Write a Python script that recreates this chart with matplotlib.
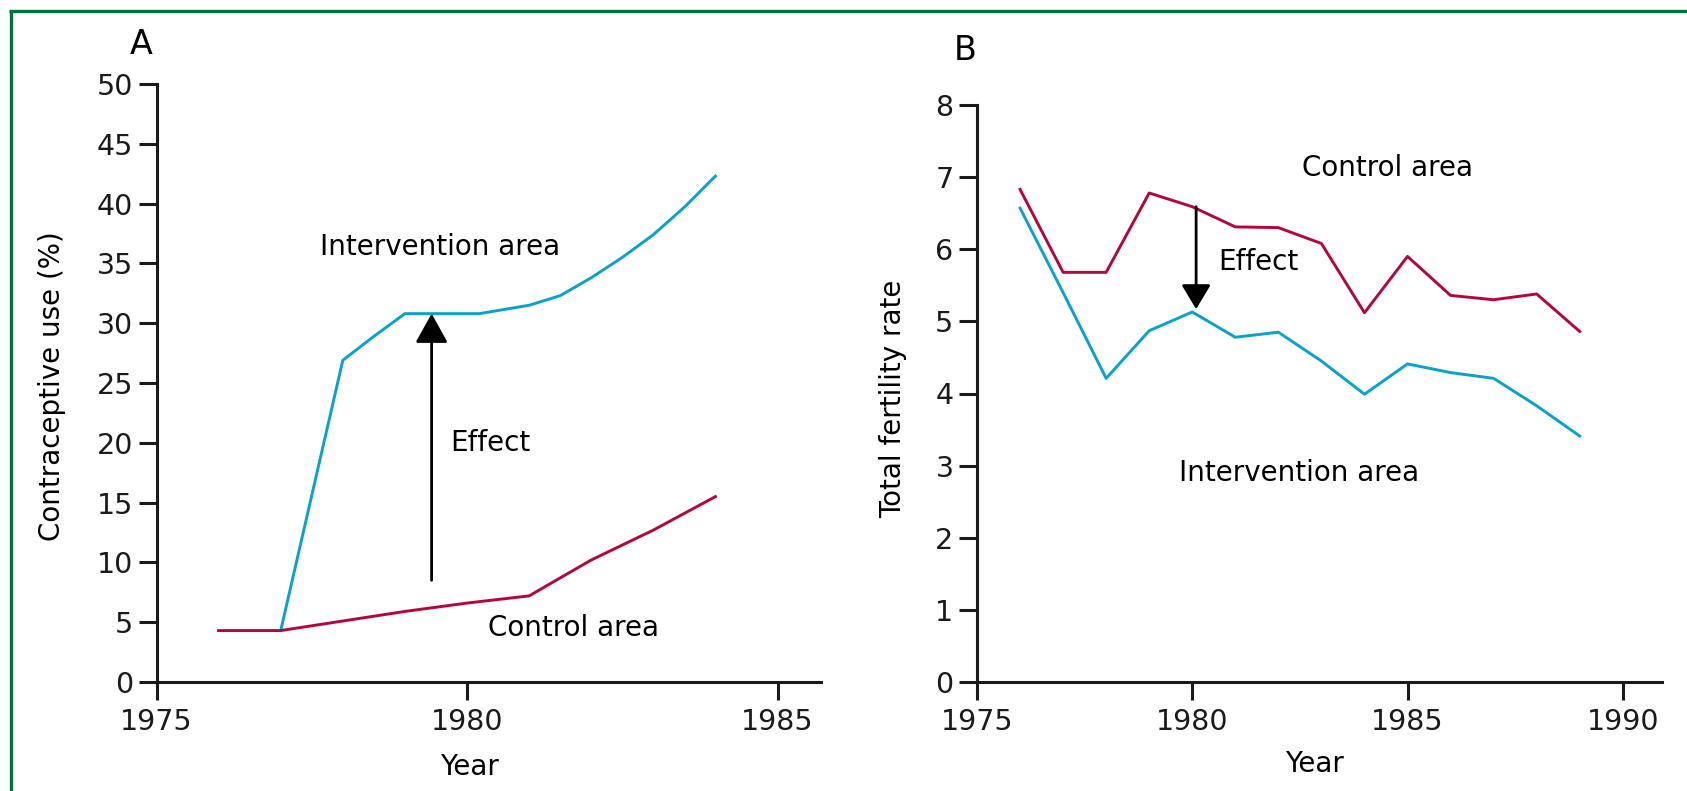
import matplotlib
matplotlib.use("Agg")
import matplotlib.pyplot as plt
from matplotlib.lines import Line2D

plt.rcParams['font.family'] = ['DejaVu Sans']

# ---------------- data ----------------
# Panel A: contraceptive use (%)
a_ctrl_years = [1976, 1977, 1978, 1979, 1980, 1981, 1982, 1983, 1984]
a_ctrl_vals = [4.3, 4.3, 5.1, 5.9, 6.6, 7.2, 10.2, 12.7, 15.5]
a_int_years = [1977, 1978, 1978.5, 1979, 1980.2, 1981, 1981.5, 1982, 1982.5, 1983, 1983.5, 1984]
a_int_vals = [4.3, 26.9, 28.9, 30.8, 30.8, 31.5, 32.3, 33.8, 35.5, 37.4, 39.7, 42.3]

# Panel B: total fertility rate
b_years = [1976, 1977, 1978, 1979, 1980, 1981, 1982, 1983, 1984, 1985, 1986, 1987, 1988, 1989]
b_ctrl_vals = [6.83, 5.68, 5.68, 6.78, 6.59, 6.31, 6.30, 6.08, 5.12, 5.90, 5.36, 5.30, 5.38, 4.86]
b_int_vals = [6.57, 5.40, 4.21, 4.87, 5.13, 4.78, 4.85, 4.45, 3.99, 4.41, 4.29, 4.21, 3.83, 3.41]

a_yticks = [0, 5, 10, 15, 20, 25, 30, 35, 40, 45, 50]
a_xticks = [1975, 1980, 1985]
b_yticks = [0, 1, 2, 3, 4, 5, 6, 7, 8]
b_xticks = [1975, 1980, 1985, 1990]

RED = '#B3063B'
CYAN = '#0AA2C8'
GREEN = '#00703C'

W, H = 1687, 791
fig = plt.figure(figsize=(W / 100, H / 100), dpi=100)
fig.patch.set_facecolor('white')

# border (top and left)
fig.add_artist(Line2D([10.5 / W, 10.5 / W], [0, 1 - 10.5 / H], transform=fig.transFigure,
                      color=GREEN, lw=2.4, solid_capstyle='butt'))
fig.add_artist(Line2D([9 / W, 1], [1 - 10.5 / H, 1 - 10.5 / H], transform=fig.transFigure,
                      color=GREEN, lw=2.4, solid_capstyle='butt'))

TICK_FS = 20.5
TEXT_FS = 20
LABEL_FS = 20


def style_axes(ax, ymax):
    for s in ['top', 'right']:
        ax.spines[s].set_visible(False)
    for s in ['left', 'bottom']:
        ax.spines[s].set_linewidth(2.2)
        ax.spines[s].set_color('#1a1a1a')
    ax.spines['left'].set_bounds(0, ymax)
    ax.tick_params(axis='both', length=13, width=2.2, color='#1a1a1a',
                   labelsize=TICK_FS, labelcolor='#1a1a1a', pad=4)
    ax.tick_params(axis='x', pad=6)


# ---------------- Panel A ----------------
axA = fig.add_axes([156.5 / W, 1 - 682 / H, (821 - 156.5) / W, (682 - 84) / H])
axA.plot(a_int_years, a_int_vals, color=CYAN, lw=2.1, solid_joinstyle='round')
axA.plot(a_ctrl_years, a_ctrl_vals, color=RED, lw=2.1, solid_joinstyle='round')
axA.set_xlim(1975, 1985.7)
axA.set_ylim(0, 50)
axA.set_xticks(a_xticks)
axA.set_yticks(a_yticks)
style_axes(axA, 50)
axA.set_xlabel('Year', fontsize=LABEL_FS, va='center')
axA.xaxis.set_label_coords(0.4705, -0.142)
axA.set_ylabel('Contraceptive use (%)', fontsize=LABEL_FS, va='center')
axA.yaxis.set_label_coords(-0.157, 0.494)
axA.annotate('', xy=(1979.43, 30.8), xytext=(1979.43, 8.5),
             arrowprops=dict(arrowstyle='-|>,head_length=0.9,head_width=0.5', lw=2.0,
                             color='black', shrinkA=0, shrinkB=0, mutation_scale=20))
axA.text(1979.57, 36.4, 'Intervention area', fontsize=TEXT_FS, ha='center', va='center')
axA.text(1980.37, 20.0, 'Effect', fontsize=TEXT_FS, ha='center', va='center')
axA.text(1981.71, 4.5, 'Control area', fontsize=TEXT_FS, ha='center', va='center')
fig.text(141 / W, 1 - 45 / H, 'A', fontsize=24, ha='center', va='center')

# ---------------- Panel B ----------------
axB = fig.add_axes([977 / W, 1 - 682 / H, (1661.5 - 977) / W, (682 - 105) / H])
axB.plot(b_years, b_ctrl_vals, color=RED, lw=2.1, solid_joinstyle='round')
axB.plot(b_years, b_int_vals, color=CYAN, lw=2.1, solid_joinstyle='round')
axB.set_xlim(1975, 1990.9)
axB.set_ylim(0, 8)
axB.set_xticks(b_xticks)
axB.set_yticks(b_yticks)
style_axes(axB, 8)
axB.set_xlabel('Year', fontsize=LABEL_FS, va='center')
axB.xaxis.set_label_coords((1314.5 - 977) / 684.5, -0.142)
axB.set_ylabel('Total fertility rate', fontsize=LABEL_FS, va='center')
axB.yaxis.set_label_coords(-0.1227, 0.49)
axB.annotate('', xy=(1980.09, 5.17), xytext=(1980.09, 6.59),
             arrowprops=dict(arrowstyle='-|>,head_length=0.75,head_width=0.45', lw=2.0,
                             color='black', shrinkA=0, shrinkB=0, mutation_scale=20))
axB.text(1984.53, 7.13, 'Control area', fontsize=TEXT_FS, ha='center', va='center')
axB.text(1981.54, 5.82, 'Effect', fontsize=TEXT_FS, ha='center', va='center')
axB.text(1982.47, 2.90, 'Intervention area', fontsize=TEXT_FS, ha='center', va='center')
fig.text(965 / W, 1 - 50 / H, 'B', fontsize=24, ha='center', va='center')

fig.savefig('out.png', dpi=100, facecolor='white')
